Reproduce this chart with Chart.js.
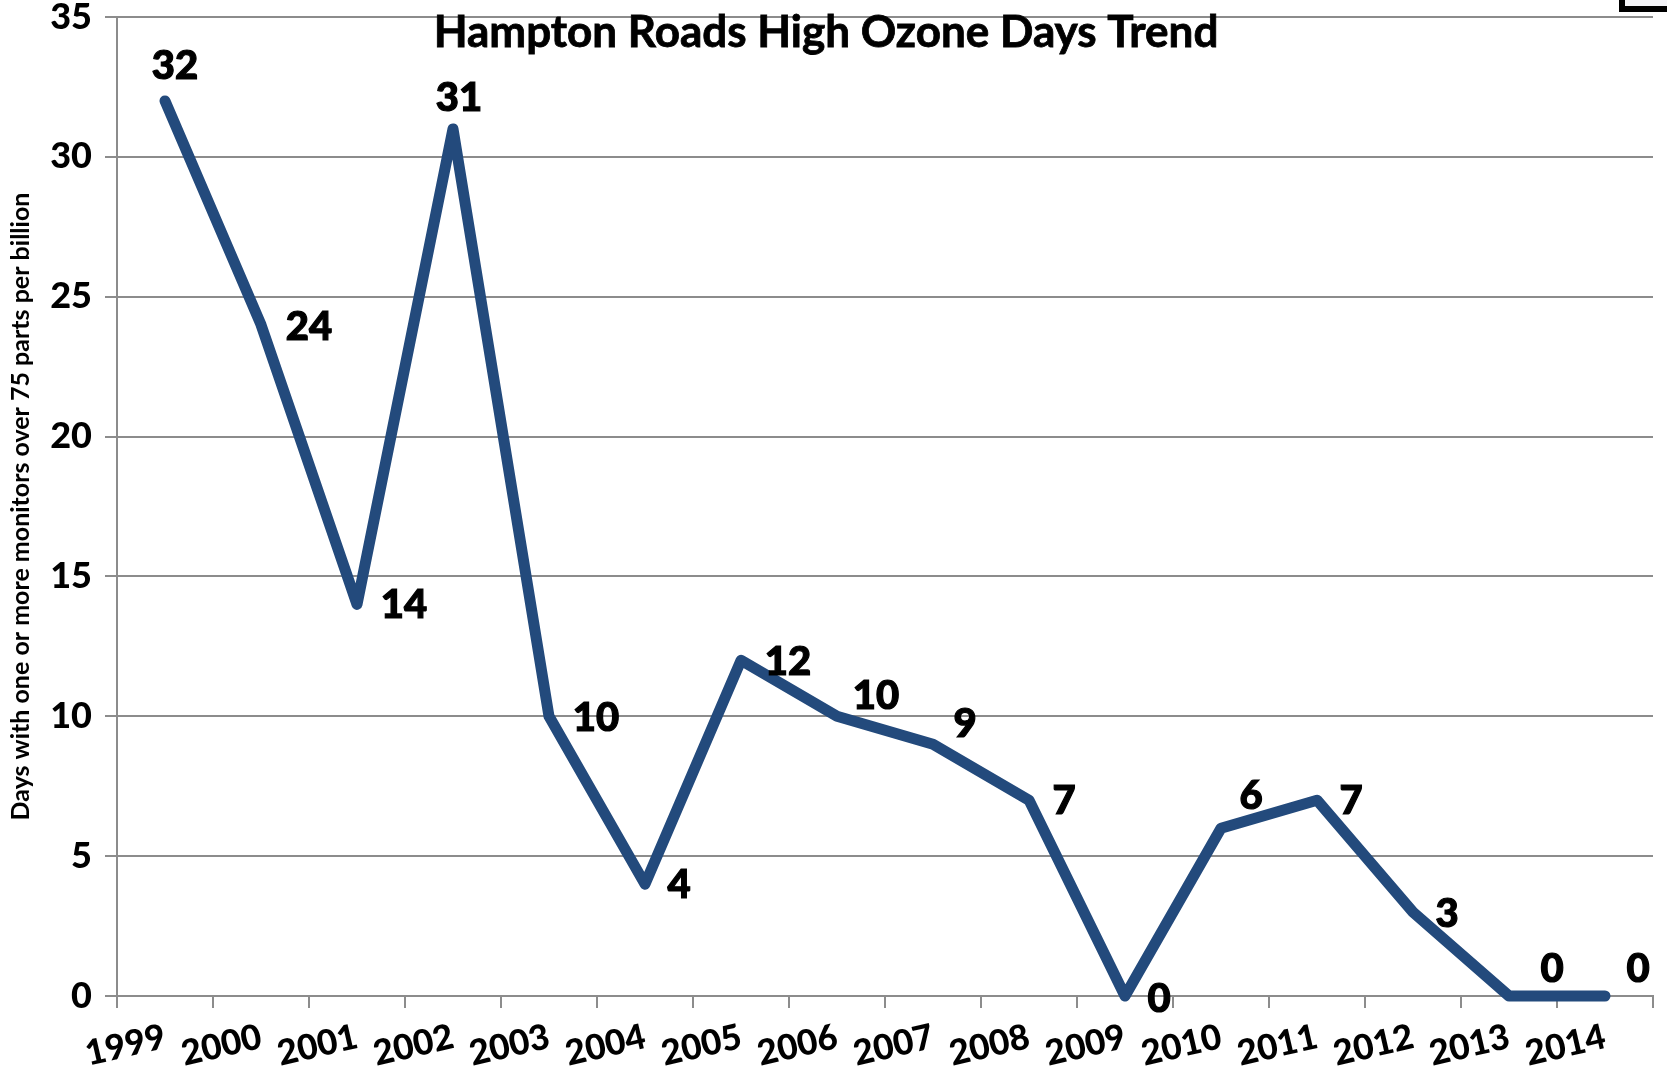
<!DOCTYPE html>
<html><head><meta charset="utf-8">
<script src="https://cdn.jsdelivr.net/npm/chart.js@4/dist/chart.umd.min.js"></script>
<style>
html,body{margin:0;padding:0;background:#fff;overflow:hidden}
#wrap{position:relative;width:1667px;height:1081px}
#corner{position:absolute;left:1619px;top:-10px;width:60px;height:10px;border:6px solid #000;background:#f4f4f8}
</style></head>
<body><div id="wrap"><canvas id="c" width="1667" height="1081"></canvas><div id="corner"></div></div>
<script>
const categories = ['1999','2000','2001','2002','2003','2004','2005','2006','2007','2008','2009','2010','2011','2012','2013','2014'];
const highOzoneDays = [32,24,14,31,10,4,12,10,9,7,0,6,7,3,0,0];
const yTicks = [0,5,10,15,20,25,30,35];
const chartTitle = 'Hampton Roads High Ozone Days Trend';
const yAxisTitle = 'Days with one or more monitors over 75 parts per billion';
// label placement relative to each point (pixels)
const labelOffsets = [[10,-35],[48,2],[47,1],[6,-31],[47,2],[34,1],[47,2],[39,-20],[32,-20],[35,1],[34,3],[30,-32],[34,1],[34,2],[43,-27],[33,-27]];

const FONT = 'Lato, "Open Sans", sans-serif';

const labelPlugin = {
  id: 'labels',
  afterDatasetsDraw(chart) {
    const ctx = chart.ctx;
    const meta = chart.getDatasetMeta(0);
    ctx.save();
    ctx.fillStyle = '#000';
    ctx.strokeStyle = '#000';
    ctx.lineWidth = 1.2;
    ctx.font = '900 40px ' + FONT;
    ctx.textAlign = 'center';
    ctx.textBaseline = 'middle';
    meta.data.forEach((pt, i) => {
      const o = labelOffsets[i];
      ctx.fillText(String(highOzoneDays[i]), pt.x + o[0], pt.y + o[1]);
      ctx.strokeText(String(highOzoneDays[i]), pt.x + o[0], pt.y + o[1]);
    });
    ctx.font = 'bold 44px ' + FONT;
    ctx.fillText(chartTitle, 826, 33);
    ctx.lineWidth = 0.8;
    ctx.strokeText(chartTitle, 826, 33);
    ctx.restore();
  }
};

new Chart(document.getElementById('c'), {
  type: 'line',
  data: {
    labels: categories,
    datasets: [{
      data: highOzoneDays,
      borderColor: '#234A7C',
      borderWidth: 11,
      pointRadius: 0,
      tension: 0,
      borderCapStyle: 'round',
      borderJoinStyle: 'round',
      clip: false
    }]
  },
  options: {
    responsive: false,
    animation: false,
    layout: { padding: { top: 17, right: 14, left: 0, bottom: 0 } },
    plugins: { legend: { display: false }, tooltip: { enabled: false }, title: { display: false } },
    scales: {
      x: {
        type: 'category',
        offset: true,
        afterFit: s => { s.height = 85; s.paddingLeft = 0; s.paddingRight = 0; },
        grid: { offset: true, drawOnChartArea: false, drawTicks: true, tickLength: 12, color: '#8c8c8c', lineWidth: 2 },
        border: { color: '#8c8c8c', width: 2 },
        ticks: { color: '#000', font: { family: FONT, size: 35, weight: '900' }, minRotation: 13, maxRotation: 13, padding: 8, autoSkip: false }
      },
      y: {
        min: 0, max: 35,
        afterFit: s => { s.width = 117; s.paddingTop = 0; s.paddingBottom = 0; },
        afterBuildTicks: s => { s.ticks = yTicks.map(v => ({ value: v })); },
        grid: { color: '#8c8c8c', lineWidth: 2, tickLength: 12 },
        border: { color: '#8c8c8c', width: 2 },
        ticks: { color: '#000', font: { family: FONT, size: 36, weight: '900' }, padding: 13 },
        title: { display: true, text: yAxisTitle, color: '#000', font: { family: FONT, size: 25, weight: 'bold' }, padding: { top: 6, bottom: 0 } }
      }
    }
  },
  plugins: [labelPlugin]
});
</script>
</body></html>
